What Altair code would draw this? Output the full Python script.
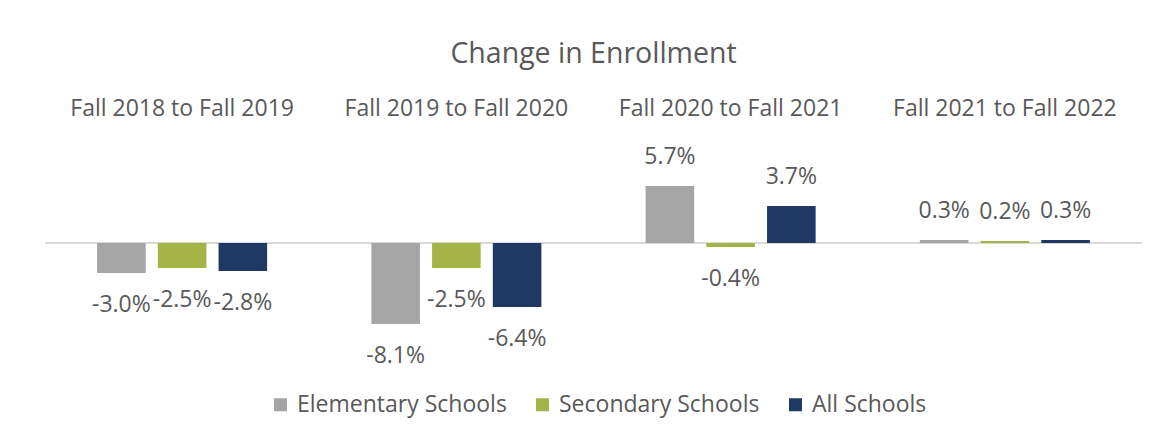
import altair as alt
import pandas as pd

periods = ["Fall 2018 to Fall 2019", "Fall 2019 to Fall 2020",
           "Fall 2020 to Fall 2021", "Fall 2021 to Fall 2022"]
series = ["Elementary Schools", "Secondary Schools", "All Schools"]
elementary = [-3.0, -8.1, 5.7, 0.3]
secondary = [-2.5, -2.5, -0.4, 0.2]
all_schools = [-2.8, -6.4, 3.7, 0.3]
colors = ["#A5A5A5", "#A4B447", "#203864"]

rows = []
for name, vals in zip(series, [elementary, secondary, all_schools]):
    for p, v in zip(periods, vals):
        rows.append({"period": p, "series": name, "value": v,
                     "label": f"{v:.1f}%"})
df = pd.DataFrame(rows)

FONT = "Open Sans"
TXT = "#595959"

x = alt.X("period:N", sort=periods, title=None,
          scale=alt.Scale(paddingInner=0.38, paddingOuter=0.19),
          axis=alt.Axis(orient="top", domain=False, ticks=False,
                        labelFontSize=23, labelColor=TXT, labelFont=FONT,
                        labelPadding=3, labelAngle=0, labelLimit=400))
xo = alt.XOffset("series:N", sort=series,
                 scale=alt.Scale(paddingInner=0.2, paddingOuter=0))
y = alt.Y("value:Q", scale=alt.Scale(domain=[-14, 12]), axis=None)

base = alt.Chart(df)

bars = base.mark_bar().encode(
    x=x, xOffset=xo, y=y,
    color=alt.Color("series:N", sort=series,
                    scale=alt.Scale(domain=series, range=colors),
                    legend=alt.Legend(title=None, orient="none",
                                      direction="horizontal",
                                      legendX=224, legendY=270,
                                      symbolType="square", symbolSize=169,
                                      symbolStrokeWidth=0,
                                      labelFontSize=23, labelColor=TXT,
                                      labelFont=FONT, labelLimit=400,
                                      columnPadding=24, labelOffset=5)),
)

zero = alt.Chart(pd.DataFrame({"z": [0]})).mark_rule(
    color="#D9D9D9", strokeWidth=2).encode(
    y=alt.Y("z:Q", scale=alt.Scale(domain=[-14, 12]), axis=None))

neg_text = base.transform_filter("datum.value < 0").mark_text(
    dy=32, baseline="middle", fontSize=23, font=FONT, color=TXT).encode(
    x=x, xOffset=xo, y=y, text="label:N")
pos_text = base.transform_filter("datum.value >= 0").mark_text(
    dy=-29, baseline="middle", fontSize=23, font=FONT, color=TXT).encode(
    x=x, xOffset=xo, y=y, text="label:N")

chart = alt.layer(zero, bars, neg_text, pos_text).properties(
    width=1097, height=260,
    title=alt.TitleParams("Change in Enrollment", fontSize=28.5, font=FONT,
                          color=TXT, fontWeight="normal", anchor="middle",
                          offset=29),
    padding={"left": 37, "top": 115, "right": 20, "bottom": 54},
    autosize=alt.AutoSizeParams(type="none"),
).configure(background="white").configure_view(stroke="transparent", strokeWidth=0)

chart.save("out.html", embed_options={"renderer": "svg", "actions": False})
